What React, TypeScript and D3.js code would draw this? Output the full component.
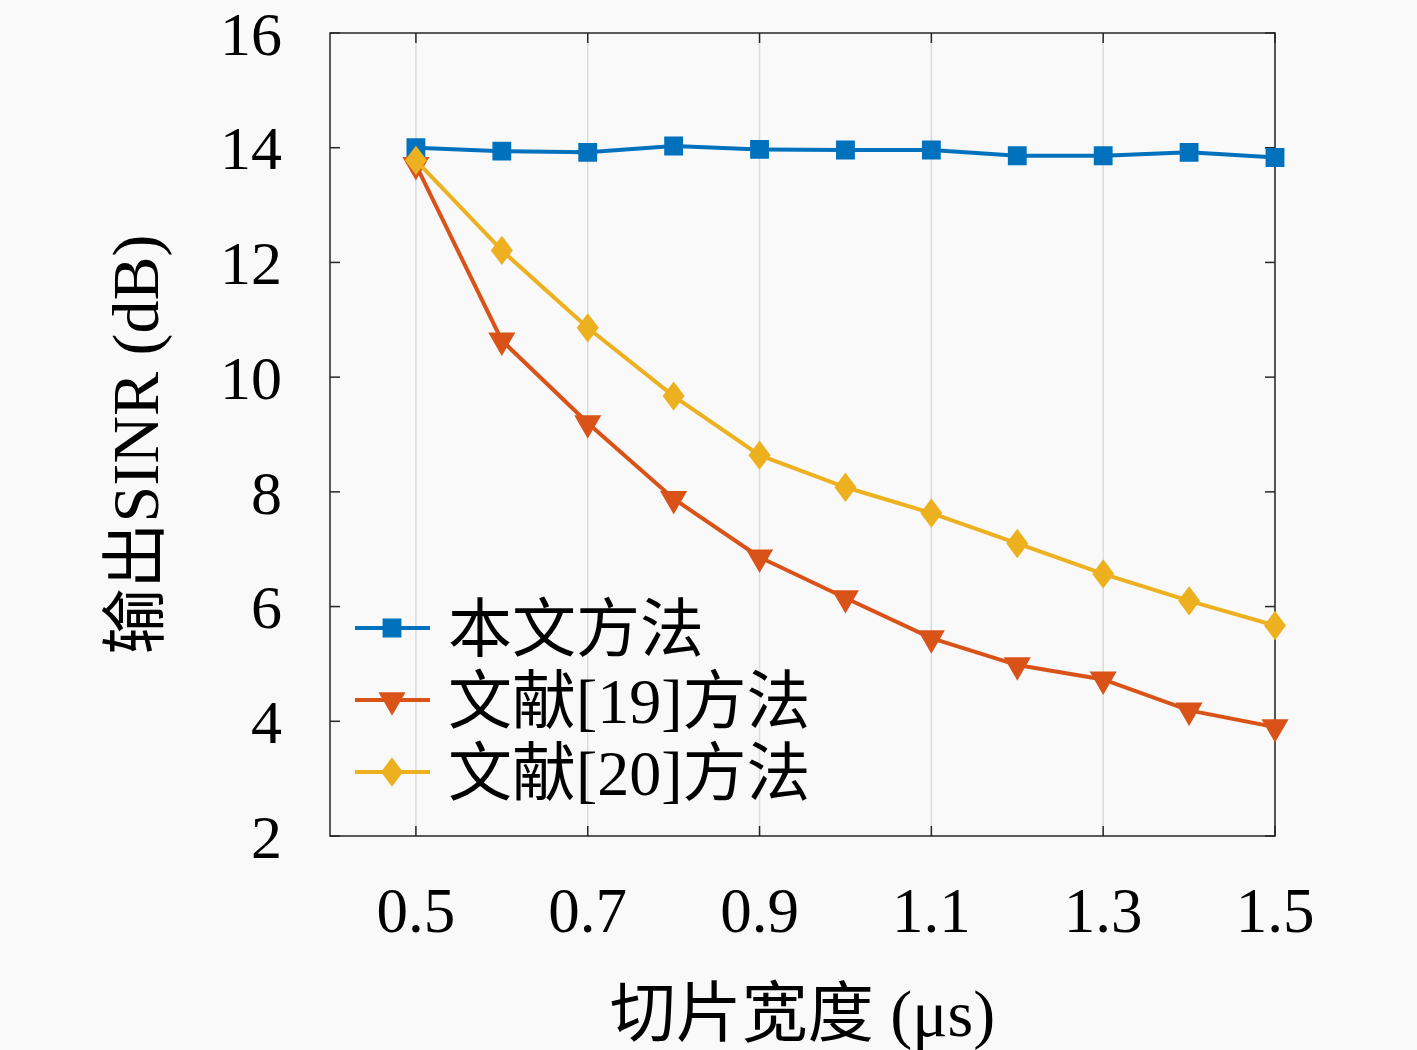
import { useEffect, useRef } from "react";
import * as d3 from "d3";

const widths = [0.5, 0.6, 0.7, 0.8, 0.9, 1.0, 1.1, 1.2, 1.3, 1.4, 1.5];
const ours = [14.0, 13.94, 13.92, 14.03, 13.97, 13.96, 13.96, 13.86, 13.86, 13.92, 13.83];
const ref19 = [13.7, 10.64, 9.2, 7.88, 6.86, 6.15, 5.45, 4.98, 4.73, 4.19, 3.9];
const ref20 = [13.78, 12.21, 10.86, 9.67, 8.64, 8.08, 7.63, 7.1, 6.57, 6.1, 5.67];
const seriesNames = ["本文方法", "文献[19]方法", "文献[20]方法"];
const xTicks = [0.5, 0.7, 0.9, 1.1, 1.3, 1.5];
const yTicks = [2, 4, 6, 8, 10, 12, 14, 16];

const W = 1417;
const H = 1050;
const SERIF = "'Liberation Serif', 'DejaVu Serif', serif";
const CJK = "'Liberation Serif', 'Noto Sans CJK SC', serif";

export default function App() {
  const svgRef = useRef<SVGSVGElement>(null);

  useEffect(() => {
    document.body.style.margin = "0";
    if (!svgRef.current) return;
    const svg = d3.select(svgRef.current);
    svg.selectAll("*").remove();

    const margin = { top: 33, right: 142, bottom: 214, left: 330 };
    const innerW = W - margin.left - margin.right;
    const innerH = H - margin.top - margin.bottom;

    svg.append("rect").attr("width", W).attr("height", H).attr("fill", "#f9f9f9");

    const g = svg.append("g").attr("transform", `translate(${margin.left},${margin.top})`);

    const x = d3.scaleLinear().domain([0.4, 1.5]).range([0, innerW]);
    const y = d3.scaleLinear().domain([2, 16]).range([innerH, 0]);

    // vertical grid
    g.selectAll(".grid")
      .data(xTicks)
      .enter()
      .append("line")
      .attr("x1", (d) => x(d))
      .attr("x2", (d) => x(d))
      .attr("y1", 0)
      .attr("y2", innerH)
      .attr("stroke", "#dcdcdc")
      .attr("stroke-width", 1.5);

    const tickLen = 10;
    // y ticks left/right
    yTicks.forEach((t) => {
      g.append("line").attr("x1", 0).attr("x2", tickLen).attr("y1", y(t)).attr("y2", y(t)).attr("stroke", "#262626").attr("stroke-width", 1.5);
      g.append("line").attr("x1", innerW).attr("x2", innerW - tickLen).attr("y1", y(t)).attr("y2", y(t)).attr("stroke", "#262626").attr("stroke-width", 1.5);
      g.append("text")
        .attr("x", -48)
        .attr("y", y(t))
        .attr("dy", "0.35em")
        .attr("text-anchor", "end")
        .style("font-family", SERIF)
        .style("font-size", "62px")
        .attr("fill", "#000")
        .text(t);
    });
    xTicks.forEach((t) => {
      g.append("line").attr("x1", x(t)).attr("x2", x(t)).attr("y1", innerH).attr("y2", innerH - tickLen).attr("stroke", "#262626").attr("stroke-width", 1.5);
      g.append("line").attr("x1", x(t)).attr("x2", x(t)).attr("y1", 0).attr("y2", tickLen).attr("stroke", "#262626").attr("stroke-width", 1.5);
      g.append("text")
        .attr("x", x(t))
        .attr("y", innerH + 96)
        .attr("text-anchor", "middle")
        .style("font-family", SERIF)
        .style("font-size", "63px")
        .attr("fill", "#000")
        .text(t.toFixed(1));
    });

    g.append("rect")
      .attr("width", innerW)
      .attr("height", innerH)
      .attr("fill", "none")
      .attr("stroke", "#262626")
      .attr("stroke-width", 1.5);

    const colors = ["#0072BD", "#D95319", "#EDB120"];
    const data = [ours, ref19, ref20];
    const symbols = [
      d3.symbol().type(d3.symbolSquare).size(300),
      d3.symbol().type(d3.symbolTriangle).size(260),
      d3.symbol().type(d3.symbolDiamond).size(200),
    ];
    const rot = ["", "rotate(180)", "scale(1.3,1)"];

    const line = d3
      .line<number>()
      .x((_, i) => x(widths[i]))
      .y((d) => y(d));

    data.forEach((vals, k) => {
      g.append("path")
        .attr("d", line(vals))
        .attr("fill", "none")
        .attr("stroke", colors[k])
        .attr("stroke-width", 4);
      g.selectAll(`.m${k}`)
        .data(vals)
        .enter()
        .append("path")
        .attr("d", symbols[k]() as string)
        .attr("transform", (d, i) => `translate(${x(widths[i])},${y(d)}) ${rot[k]}`)
        .attr("fill", colors[k])
        .attr("stroke", colors[k])
        .attr("stroke-width", 1.5);
    });

    // legend
    const lg = svg.append("g");
    seriesNames.forEach((name, k) => {
      const cy = 628 + k * 72;
      lg.append("line").attr("x1", 355).attr("x2", 430).attr("y1", cy).attr("y2", cy).attr("stroke", colors[k]).attr("stroke-width", 4);
      lg.append("path")
        .attr("d", symbols[k]() as string)
        .attr("transform", `translate(392,${cy}) ${rot[k]}`)
        .attr("fill", colors[k])
        .attr("stroke", colors[k])
        .attr("stroke-width", 1.5);
      lg.append("text")
        .attr("x", 448)
        .attr("y", cy)
        .attr("dy", "0.36em")
        .style("font-family", CJK)
        .style("font-size", "64px")
        .attr("fill", "#000")
        .text(name);
    });

    // axis labels
    svg.append("text")
      .attr("x", margin.left + innerW / 2)
      .attr("y", 1036)
      .attr("text-anchor", "middle")
      .style("font-family", CJK)
      .style("font-size", "66px")
      .attr("fill", "#000")
      .text("切片宽度 (μs)");

    svg.append("text")
      .attr("transform", `translate(158,${margin.top + innerH / 2 + 10}) rotate(-90)`)
      .attr("text-anchor", "middle")
      .style("font-family", CJK)
      .style("font-size", "66px")
      .attr("fill", "#000")
      .text("输出SINR (dB)");
  }, []);

  return <svg ref={svgRef} width={W} height={H} style={{ display: "block" }} />;
}
